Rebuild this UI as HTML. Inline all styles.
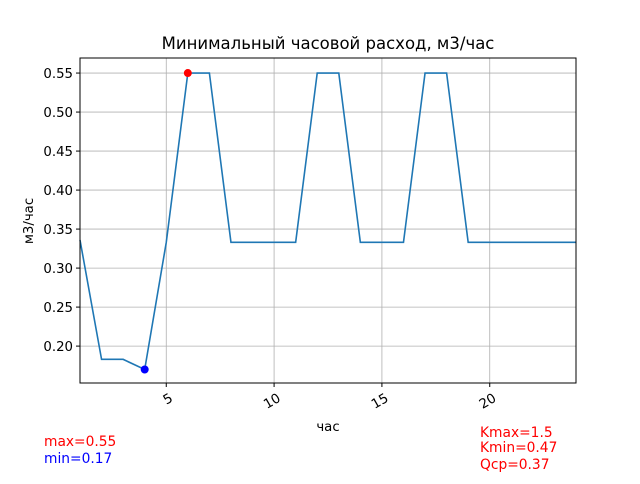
<!DOCTYPE html>
<html><head><meta charset="utf-8"><style>
body{margin:0;background:#fff;font-family:"DejaVu Sans","Liberation Sans",sans-serif}
</style></head><body>
<svg id="c" width="640" height="480" xmlns="http://www.w3.org/2000/svg" font-family="DejaVu Sans, Liberation Sans, sans-serif">
<rect width="640" height="480" fill="#fff"/>
<g id="grid"></g>
<g id="plot"></g>
<rect x="80" y="58" width="496" height="325" fill="none" stroke="#000" stroke-width="1"/>
<g id="ticks"></g>
<text x="328" y="49" text-anchor="middle" font-size="16.5">Минимальный часовой расход, м3/час</text>
<text x="328" y="431" text-anchor="middle" font-size="13.3">час</text>
<text transform="translate(33,221) rotate(-90)" text-anchor="middle" font-size="13.3">м3/час</text>
<text x="44" y="446" font-size="13.8" fill="red">max=0.55</text>
<text x="44" y="463" font-size="13.8" fill="blue">min=0.17</text>
<text x="480" y="437" font-size="13.8" fill="red">Kmax=1.5</text>
<text x="480" y="452" font-size="13.8" fill="red">Kmin=0.47</text>
<text x="480" y="469" font-size="13.8" fill="red">Qср=0.37</text>
</svg>
<script>
const hours=[1,2,3,4,5,6,7,8,9,10,11,12,13,14,15,16,17,18,19,20,21,22,23,24];
const values=[0.336,0.183,0.183,0.17,0.333,0.55,0.55,0.333,0.333,0.333,0.333,0.55,0.55,0.333,0.333,0.333,0.55,0.55,0.333,0.333,0.333,0.333,0.333,0.333];
const xTicks=[5,10,15,20];
const yTicks=[0.20,0.25,0.30,0.35,0.40,0.45,0.50,0.55];
const maxPoint=[6,0.55];
const minPoint=[4,0.17];
const NS="http://www.w3.org/2000/svg";
const X0=80,X1=576,Y0=383,Y1=58,xmin=1,xmax=24,ymin=0.1527,ymax=0.5693;
const sx=v=>X0+(v-xmin)/(xmax-xmin)*(X1-X0);
const sy=v=>Y0-(v-ymin)/(ymax-ymin)*(Y0-Y1);
function mk(t,a,p){const e=document.createElementNS(NS,t);for(const k in a)e.setAttribute(k,a[k]);p.appendChild(e);return e;}
const g=document.getElementById('grid'),tk=document.getElementById('ticks'),pl=document.getElementById('plot');
xTicks.forEach(v=>{const x=sx(v);
const l=mk('line',{x1:x,x2:x,y1:Y1,y2:Y0,stroke:'#b0b0b0','stroke-width':0.8},g);


mk('line',{x1:x,x2:x,y1:Y0,y2:Y0+4,stroke:'#000'},tk);
const t=mk('text',{transform:`translate(${x+3},${Y0+10}) rotate(-30)`,'text-anchor':'end','dominant-baseline':'hanging','font-size':13.3},tk);
t.textContent=v;

});
yTicks.forEach(v=>{const y=sy(v);
const l=mk('line',{x1:X0,x2:X1,y1:y,y2:y,stroke:'#b0b0b0','stroke-width':0.8},g);


mk('line',{x1:X0-4,x2:X0,y1:y,y2:y,stroke:'#000'},tk);
const t=mk('text',{x:X0-7,y:y+5,'text-anchor':'end','font-size':13.3},tk);
t.textContent=v.toFixed(2);

});
const pts=hours.map((h,i)=>sx(h)+','+sy(values[i])).join(' ');
const line=mk('polyline',{points:pts,fill:'none',stroke:'#1f77b4','stroke-width':1.6},pl);


const mx=mk('circle',{cx:sx(maxPoint[0]),cy:sy(maxPoint[1]),r:4,fill:'red'},pl);


const mn=mk('circle',{cx:sx(minPoint[0]),cy:sy(minPoint[1]),r:4,fill:'blue'},pl);


</script>
</body></html>
